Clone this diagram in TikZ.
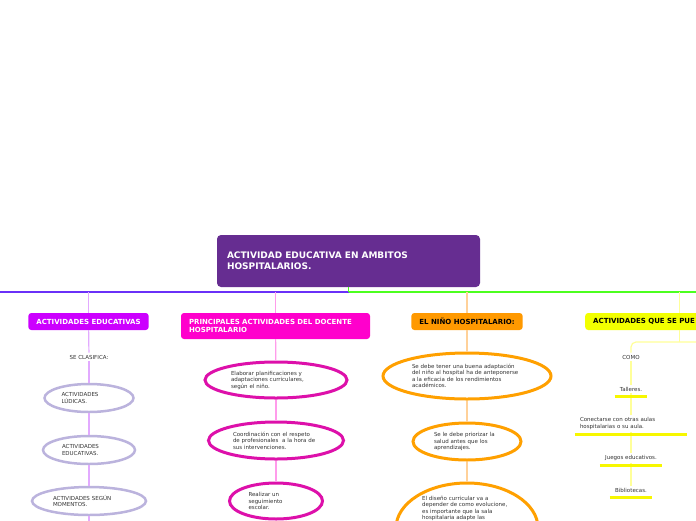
\documentclass[tikz,border=0pt]{standalone}
\usepackage{fontspec}
\setmainfont{DejaVu Sans}
\usetikzlibrary{shapes.geometric,positioning}
\definecolor{rootpurple}{HTML}{662D91}
\definecolor{trunkblue}{HTML}{6A30F8}
\definecolor{trunkgreen}{HTML}{4CFF1F}
\definecolor{headA}{HTML}{CC00FF}
\definecolor{headB}{HTML}{FF00CC}
\definecolor{headC}{HTML}{FF9900}
\definecolor{headD}{HTML}{F2FF00}
\definecolor{lineA}{HTML}{E2AAFF}
\definecolor{lineB}{HTML}{FF9CEB}
\definecolor{lineC}{HTML}{FFD199}
\definecolor{lineD}{HTML}{FFFF99}
\definecolor{ovalA}{HTML}{BBB3DD}
\definecolor{ovalB}{HTML}{DD10AA}
\definecolor{ovalC}{HTML}{FFA000}
\definecolor{barD}{HTML}{F7F700}
\definecolor{txtgray}{HTML}{333333}
\tikzstyle{root}=[rectangle,rounded corners=4pt,fill=rootpurple,text=white,align=left,text width=243,inner sep=10,minimum width=263,minimum height=52,font=\fontsize{9}{11}\selectfont\bfseries]
\tikzstyle{head}=[rectangle,rounded corners=3pt,align=left,inner xsep=8,inner ysep=0,minimum height=17,font=\fontsize{7}{8.5}\selectfont\bfseries]
\tikzstyle{oval}=[ellipse,align=left,inner sep=0,text=txtgray,font=\fontsize{5.5}{6.5}\selectfont]
\tikzstyle{note}=[align=left,inner xsep=5,inner ysep=2,text=txtgray,font=\fontsize{5.5}{6.5}\selectfont]
\tikzstyle{link}=[line width=1.2]
\tikzstyle{bar}=[line width=3,barD]

\begin{document}
\begin{tikzpicture}[x=1pt,y=-1pt]
\path[use as bounding box,fill=white] (0,0) rectangle (696,520);
\clip (0,0) rectangle (696,520);
\node[root] (T) at (348.5,261) {ACTIVIDAD EDUCATIVA EN AMBITOS\\HOSPITALARIOS.};
\coordinate (hub) at (348.5,292);
\coordinate (westend) at (-10,292);
\coordinate (eastend) at (710,292);
\draw[line width=1.6,trunkblue] (hub) -- (westend);
\draw[line width=1.6,trunkgreen] (hub) -- (eastend);
\draw[line width=1.6,trunkgreen] (T.south) -- (hub);

\node[head,fill=headA,text=white] (H1) at (88.5,321.5) {ACTIVIDADES EDUCATIVAS};
\node[head,fill=headB,text=white,text width=173,minimum height=26] (H2) at (275.5,326) {PRINCIPALES ACTIVIDADES DEL DOCENTE\\HOSPITALARIO};
\node[head,fill=headC,text=black] (H3) at (467,321.5) {EL NIÑO HOSPITALARIO:};
\node[head,fill=headD,text=black,text width=172,anchor=west] (H4) at (585,321.5) {ACTIVIDADES QUE SE PUE};
\draw[link,lineA] (H1.north |- hub) -- (H1.north);
\draw[link,lineB] (H2.north |- hub) -- (H2.north);
\draw[link,lineC] (H3.north |- hub) -- (H3.north);
\draw[link,lineD] (H4.north |- hub) -- (H4.north);

\node[note] (A0) at (89,357) {SE CLASIFICA:};
\node[oval,draw=ovalA,line width=2.5,text width=55,minimum width=89,minimum height=28] (A1) at (89,398) {ACTIVIDADES\\LÚDICAS.};
\node[oval,draw=ovalA,line width=2.5,text width=54,minimum width=92,minimum height=28] (A2) at (89,450) {ACTIVIDADES\\EDUCATIVAS.};
\node[oval,draw=ovalA,line width=2.5,text width=72,minimum width=114,minimum height=28] (A3) at (89,501) {ACTIVIDADES SEGÚN\\MOMENTOS.};
\coordinate (A4) at (89,530);
\draw[link,lineA] (H1) -- (A0);
\draw[link,lineA] (A0) -- (A1);
\draw[link,lineA] (A1) -- (A2);
\draw[link,lineA] (A2) -- (A3);
\draw[link,lineA] (A3) -- (A4);

\node[oval,draw=ovalB,line width=3,text width=90,minimum width=142,minimum height=36] (B1) at (276,380) {Elaborar planificaciones y\\adaptaciones curriculares,\\según el niño.};
\node[oval,draw=ovalB,line width=3,text width=86,minimum width=135,minimum height=37] (B2) at (276,440.5) {Coordinación con el respeto\\de profesionales \ a la hora de\\sus intervenciones.};
\node[oval,draw=ovalB,line width=3,text width=55,minimum width=93,minimum height=36] (B3) at (276,501) {Realizar un\\seguimiento\\escolar.};
\draw[link,lineB] (H2) -- (B1);
\draw[link,lineB] (B1) -- (B2);
\draw[link,lineB] (B2) -- (B3);

\node[oval,draw=ovalC,line width=3,text width=110,minimum width=168,minimum height=46] (C1) at (467,376) {Se debe tener una buena adaptación\\del niño al hospital ha de anteponerse\\a la eficacia de los rendimientos\\académicos.};
\node[oval,draw=ovalC,line width=3,text width=66,minimum width=108,minimum height=37] (C2) at (467,441.5) {Se le debe priorizar la\\salud antes que los\\aprendizajes.};
\node[oval,draw=ovalC,line width=3,minimum width=142,minimum height=90] (C3) at (467,528) {};
\node[note,anchor=north west,inner sep=0] (C3t) at (422,496) {El diseño curricular va a\\depender de como evolucione,\\es importante que la sala\\hospitalaria adapte las};
\draw[link,lineC] (H3) -- (C1);
\draw[link,lineC] (C1) -- (C2);
\draw[link,lineC] (C2) -- (C3);

\coordinate (split) at (631,342);
\coordinate (splitend) at (720,342);
\node[note] (D0) at (631,357) {COMO};
\node[note] (D1) at (631,389) {Talleres.};
\node[note,text width=102] (D2) at (631,423.5) {Conectarse con otras aulas\\hospitalarias o su aula.};
\node[note] (D3) at (631,458) {Juegos educativos.};
\node[note] (D4) at (631,490) {Bibliotecas.};
\draw[link,lineD] (H4.south) -- (H4.south |- split);
\draw[link,lineD,rounded corners=5] (splitend) -- (split) -- (D0.north);
\draw[link,lineD] (D0) -- (D1);
\draw[link,lineD] (D1) -- (D2);
\draw[link,lineD] (D2) -- (D3);
\draw[link,lineD] (D3) -- (D4);
\foreach \n in {D1,D2,D3,D4}
  \draw[bar] ([yshift=-3]\n.south west) -- ([yshift=-3]\n.south east);
\end{tikzpicture}
\end{document}
